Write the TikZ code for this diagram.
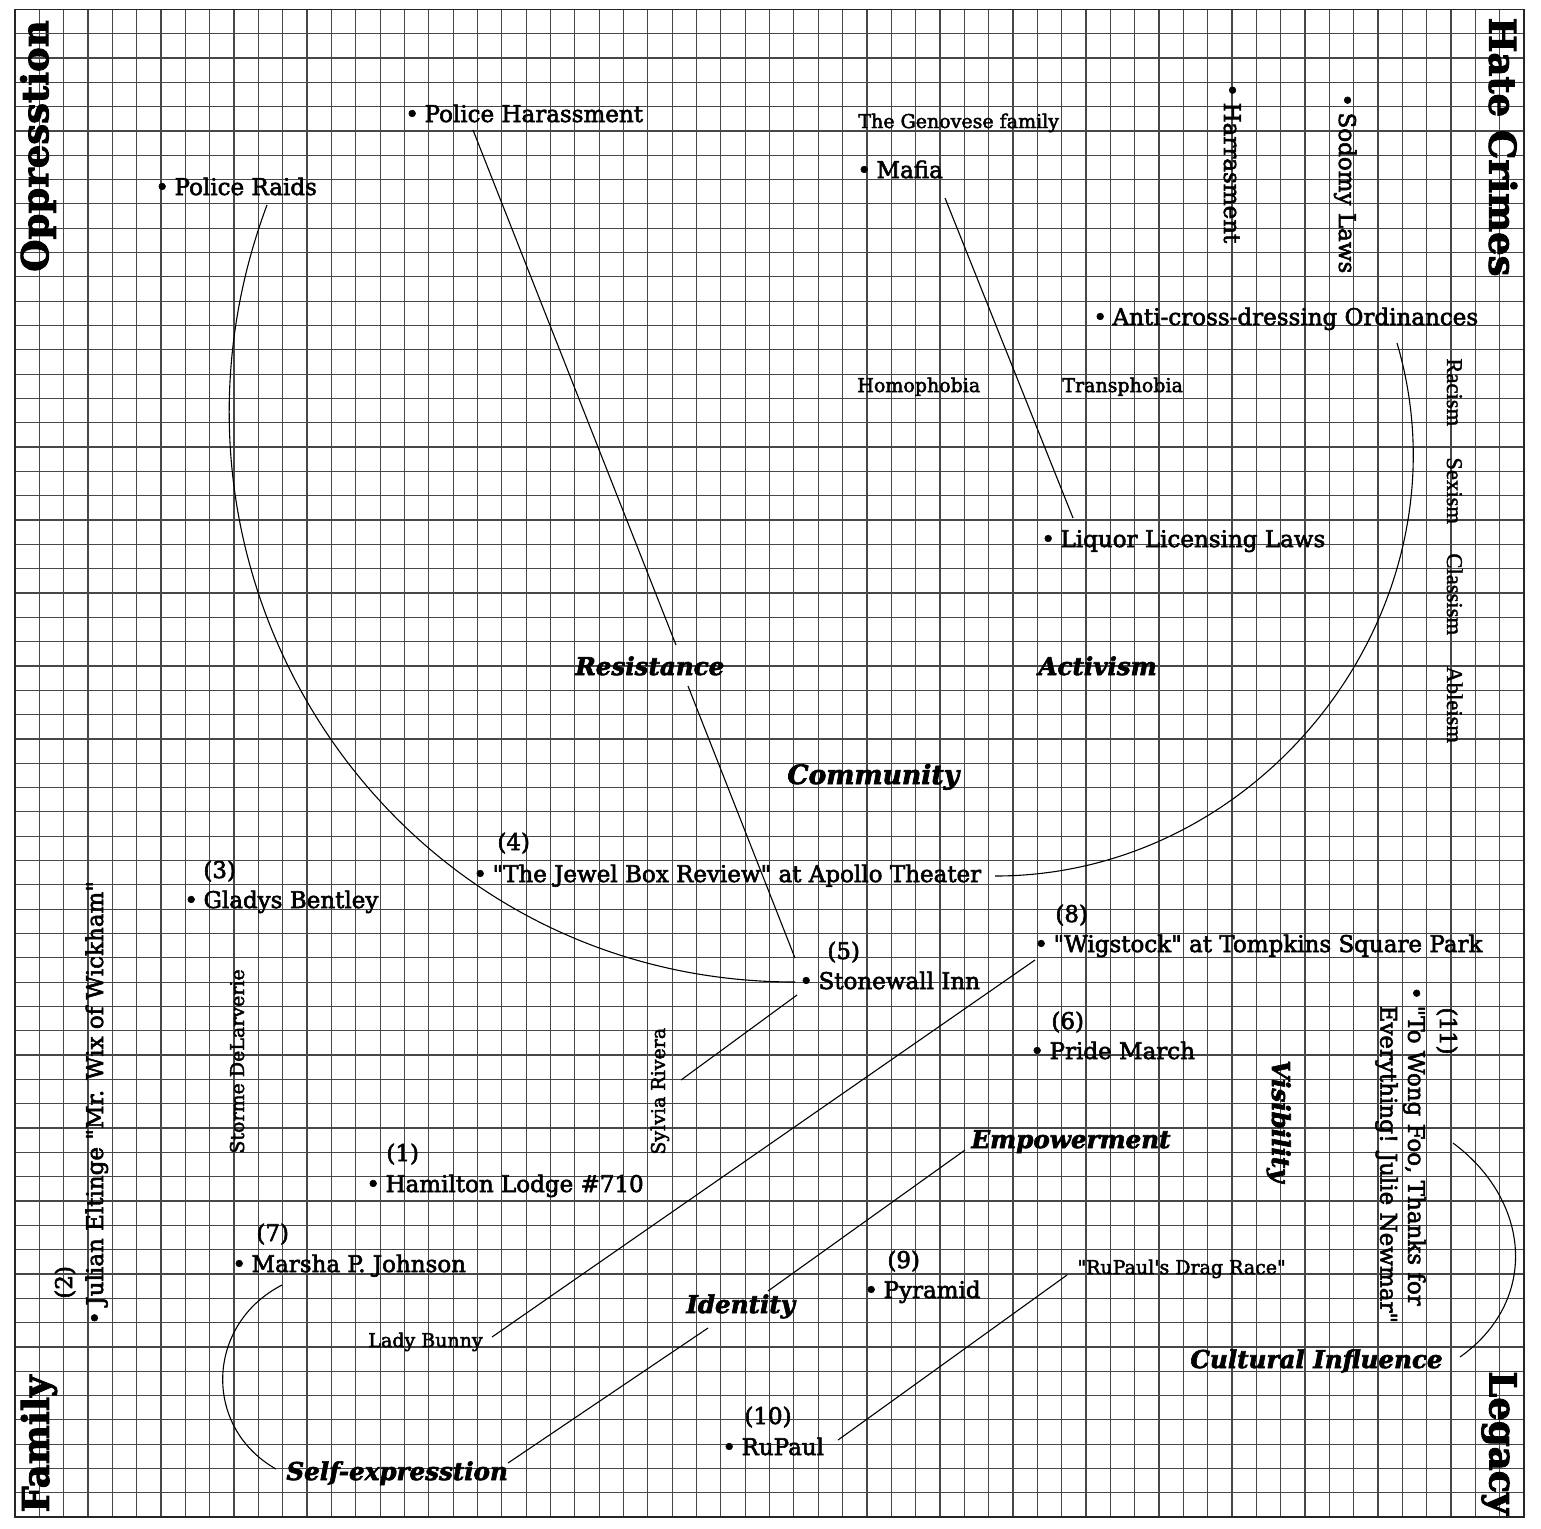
\documentclass[tikz,border=0pt]{standalone}
\usepackage{fontspec}
\setmainfont{DejaVu Serif}[Ligatures=TeXOff, FakeBold=2.5]
\newfontfamily\timesfont{Liberation Serif}[Ligatures=TeXOff, FakeBold=1.5]
\usetikzlibrary{calc}
\newcommand{\bul}{•\hspace{2.8pt}}

\begin{document}
\begin{tikzpicture}[
    x=0.5pt, y=-0.5pt,
    gridline/.style={black!72, line width=0.6pt},
    sheet/.style={black!85, line width=0.8pt},
    link/.style={line width=0.55pt},
    item/.style={anchor=base west, inner sep=0pt,
        font=\fontsize{11.5}{13.9}\selectfont},
    small/.style={item, font=\fontsize{9.5}{11.4}\selectfont},
    theme/.style={item, font=\fontsize{12.3}{14.8}\selectfont\bfseries\itshape},
    ism/.style={item, rotate=-90, font=\timesfont\fontsize{11.3}{13.6}\selectfont},
    corner/.style={inner sep=0pt, font=\fontsize{18.5}{22}\selectfont\bfseries},
]

    \useasboundingbox (0,0) rectangle (1541,1528);

    % Grid paper
    \foreach \i in {0,...,62} {
        \draw[gridline] (15+\i*24.34,9.3) -- (15+\i*24.34,1517.2);
        \draw[gridline] (15,9.3+\i*24.32) -- (1524.1,9.3+\i*24.32);
    }
    \draw[sheet] (15,9.3) rectangle (1524.1,1517.2);

    % Corner headings
    \node[corner, rotate=90]  (oppr)   at (38,146)    {Oppresstion};
    \node[corner, rotate=-90] (hate)   at (1503,147)  {Hate Crimes};
    \node[corner, rotate=90]  (family) at (39,1444)   {Family};
    \node[corner, rotate=-90] (legacy) at (1499,1443) {Legacy};

    % Oppression and hate crimes
    \node[item]  (raids)    at (155,195) {\bul Police Raids};
    \node[item]  (harass)   at (405,122) {\bul Police Harassment};
    \node[small] (genovese) at (858,128) {The Genovese family};
    \node[item]  (mafia)    at (857,178) {\bul Mafia};
    \node[item, rotate=-90] (harrasment) at (1224,83) {\bul Harrasment};
    \node[item, rotate=-90] (sodomy)     at (1339,93) {\bul Sodomy Laws};
    \node[item]  (anti)     at (1093,325) {\bul Anti-cross-dressing Ordinances};
    \node[small] (homo)     at (857,392)  {Homophobia};
    \node[small] (trans)    at (1062,392) {Transphobia};
    \node[ism]   (racism)   at (1447,358) {Racism};
    \node[ism]   (sexism)   at (1447,457) {Sexism};
    \node[ism]   (classism) at (1447,553) {Classism};
    \node[ism]   (ableism)  at (1447,666) {Ableism};
    \node[item]  (liquor)   at (1041,547) {\bul Liquor Licensing Laws};

    % Themes
    \node[theme] (resist)   at (575,675)  {Resistance};
    \node[theme] (activ)    at (1038,675) {Activism};
    \node[theme, font=\fontsize{13.3}{16}\selectfont\bfseries\itshape]
                 (commun)   at (787,784)  {Community};
    \node[theme] (empower)  at (971,1148) {Empowerment};
    \node[theme, rotate=-90] (visib) at (1272,1060) {Visibility};
    \node[theme] (ident)    at (686,1313) {Identity};
    \node[theme] (cultural) at (1190,1368) {Cultural Influence};
    \node[theme] (selfexp)  at (286,1480) {Self-expresstion};

    % Family and legacy
    \node[item] (n4)        at (497,850)  {(4)};
    \node[item] (jewel)     at (473,882)  {\bul "The Jewel Box Review" at Apollo Theater};
    \node[item] (n3)        at (203,878)  {(3)};
    \node[item] (gladys)    at (184,908)  {\bul Gladys Bentley};
    \node[item] (n8)        at (1055,922) {(8)};
    \node[item] (wigstock)  at (1034,952) {\bul "Wigstock" at Tompkins Square Park};
    \node[item] (n5)        at (827,959)  {(5)};
    \node[item] (stonewall) at (799,989)  {\bul Stonewall Inn};
    \node[item] (n6)        at (1051,1029) {(6)};
    \node[item] (pride)     at (1030,1059) {\bul Pride March};
    \node[item] (n1)        at (386,1161) {(1)};
    \node[item] (hamilton)  at (366,1192) {\bul Hamilton Lodge \#710};
    \node[item] (n7)        at (256,1241) {(7)};
    \node[item] (marsha)    at (232,1272) {\bul Marsha P. Johnson};
    \node[item] (n9)        at (887,1268) {(9)};
    \node[item] (pyramid)   at (864,1298) {\bul Pyramid};
    \node[item] (n10)       at (744,1424) {(10)};
    \node[item] (rupaul)    at (722,1455) {\bul RuPaul};
    \node[item, rotate=90]  (n2)     at (72,1299)  {(2)};
    \node[item, rotate=90]  (julian) at (103,1325) {\bul Julian Eltinge "Mr. Wix of Wickham"};
    \node[item, rotate=-90] (n11)    at (1440,1007) {(11)};
    \node[item, rotate=-90, anchor=north west, align=left] (wongfoo) at (1426,986)
        {\bul "To Wong Foo, Thanks for\\\hphantom{\bul}Everything! Julie Newmar"};
    \node[small, rotate=90] (storme) at (244,1154) {Storme DeLarverie};
    \node[small, rotate=90] (sylvia) at (665,1155) {Sylvia Rivera};
    \node[small] (bunny)    at (368,1347)  {Lady Bunny};
    \node[small] (dragrace) at (1077,1274) {"RuPaul's Drag Race"};

    % Links
    \draw[link] ([shift={(68,8)}]harass.base west) -- ([shift={(101,-30)}]resist.base west);
    \draw[link] ([shift={(113,11)}]resist.base west) -- ([shift={(-4,-31)}]stonewall.base west);
    \draw[link] ([shift={(112,10)}]raids.base west)
        .. controls +(-140,375) and +(-403,0) .. ([shift={(-4,-7)}]stonewall.base west);
    \draw[link] ([shift={(88,20)}]mafia.base west) -- ([shift={(32,-29)}]liquor.base west);
    \draw[link] ([shift={(304,18)}]anti.base west)
        .. controls +(77,261) and +(272,0) .. ([shift={(522,-6)}]jewel.base west);
    \draw[link] ([shift={(-2,6)}]stonewall.base west) -- ([shift={(16,-75)}]sylvia.base west);
    \draw[link] ([shift={(1,8)}]wigstock.base west) -- ([shift={(124,-10)}]bunny.base west);
    \draw[link] ([shift={(-6,2)}]empower.base west) -- ([shift={(82,-22)}]ident.base west);
    \draw[link] ([shift={(22,15)}]ident.base west) -- ([shift={(222,-17)}]selfexp.base west);
    \draw[link] ([shift={(50,13)}]marsha.base west)
        .. controls +(-76,39) and +(-74,-42) .. ([shift={(-10,-11)}]selfexp.base west);
    \draw[link] ([shift={(-10,1)}]dragrace.base west) -- ([shift={(116,-15)}]rupaul.base west);
    \draw[link] ([shift={(27,157)}]wongfoo.north west)
        .. controls +(77,57) and +(80,-57) .. ([shift={(270,-11)}]cultural.base west);

\end{tikzpicture}
\end{document}
